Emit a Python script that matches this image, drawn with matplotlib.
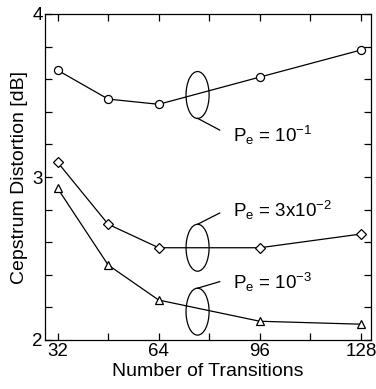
import matplotlib
matplotlib.use("Agg")
import matplotlib.pyplot as plt
from matplotlib.patches import Ellipse

plt.rcParams['font.family'] = ['Liberation Sans', 'DejaVu Sans']
plt.rcParams['mathtext.fontset'] = 'custom'
plt.rcParams['mathtext.rm'] = 'Liberation Sans'
plt.rcParams['mathtext.it'] = 'Liberation Sans'

transitions = [32, 48, 64, 96, 128]
pe_1e1 = [3.655, 3.478, 3.446, 3.613, 3.779]
pe_3e2 = [3.09, 2.71, 2.566, 2.566, 2.65]
pe_1e3 = [2.93, 2.46, 2.245, 2.115, 2.097]
xticks = [32, 64, 96, 128]
yticks = [2, 3, 4]
labels = [r'P$_\mathrm{e}$ = 10$^{-1}$', r'P$_\mathrm{e}$ = 3x10$^{-2}$', r'P$_\mathrm{e}$ = 10$^{-3}$']

fig = plt.figure(figsize=(3.76, 3.89), dpi=100)
ax = fig.add_axes([45/376, 1-340/389, (371-45)/376, (340-14)/389])

kw = dict(color='black', lw=0.9, mfc='white', mec='black', mew=0.9)
ax.plot(transitions, pe_1e1, marker='o', ms=5.8, **kw)
ax.plot(transitions, pe_3e2, marker='D', ms=5.2, **kw)
ax.plot(transitions, pe_1e3, marker='^', ms=6.2, **kw)

ax.set_xlim(28, 131.2)
ax.set_ylim(2, 4)
ax.set_xticks(xticks)
ax.set_xticks([48, 80, 112], minor=True)
ax.set_yticks(yticks)
ax.set_yticks([2.2, 2.4, 2.6, 2.8, 3.2, 3.4, 3.6, 3.8], minor=True)
ax.tick_params(which='both', direction='in', top=True, right=True, labelsize=13.5, width=0.9)
ax.tick_params(which='both', length=5)
ax.tick_params(axis='y', pad=1.5)
ax.tick_params(axis='x', pad=2)
for s in ax.spines.values():
    s.set_linewidth(0.9)

ax.set_xlabel('Number of Transitions', fontsize=14, labelpad=2)
ax.set_ylabel('Cepstrum Distortion [dB]', fontsize=14, labelpad=3)

ex, ew, eh = 76.3, 7.3, 0.288
centers = [3.503, 2.566, 2.174]
ends = [(3.36, 83.3, 3.288), (2.71, 83.3, 2.779), (2.318, 83.3, 2.358)]
text_y = [3.217, 2.752, 2.313]
for c, (y0, x1, y1), ty, lab in zip(centers, ends, text_y, labels):
    ax.add_patch(Ellipse((ex, c), ew, eh, fill=False, ec='black', lw=0.9))
    ax.plot([ex, x1], [y0, y1], color='black', lw=0.9)
    ax.text(87.4, ty, lab, fontsize=13.5, va='baseline', ha='left')

fig.savefig('out.png', dpi=100)
